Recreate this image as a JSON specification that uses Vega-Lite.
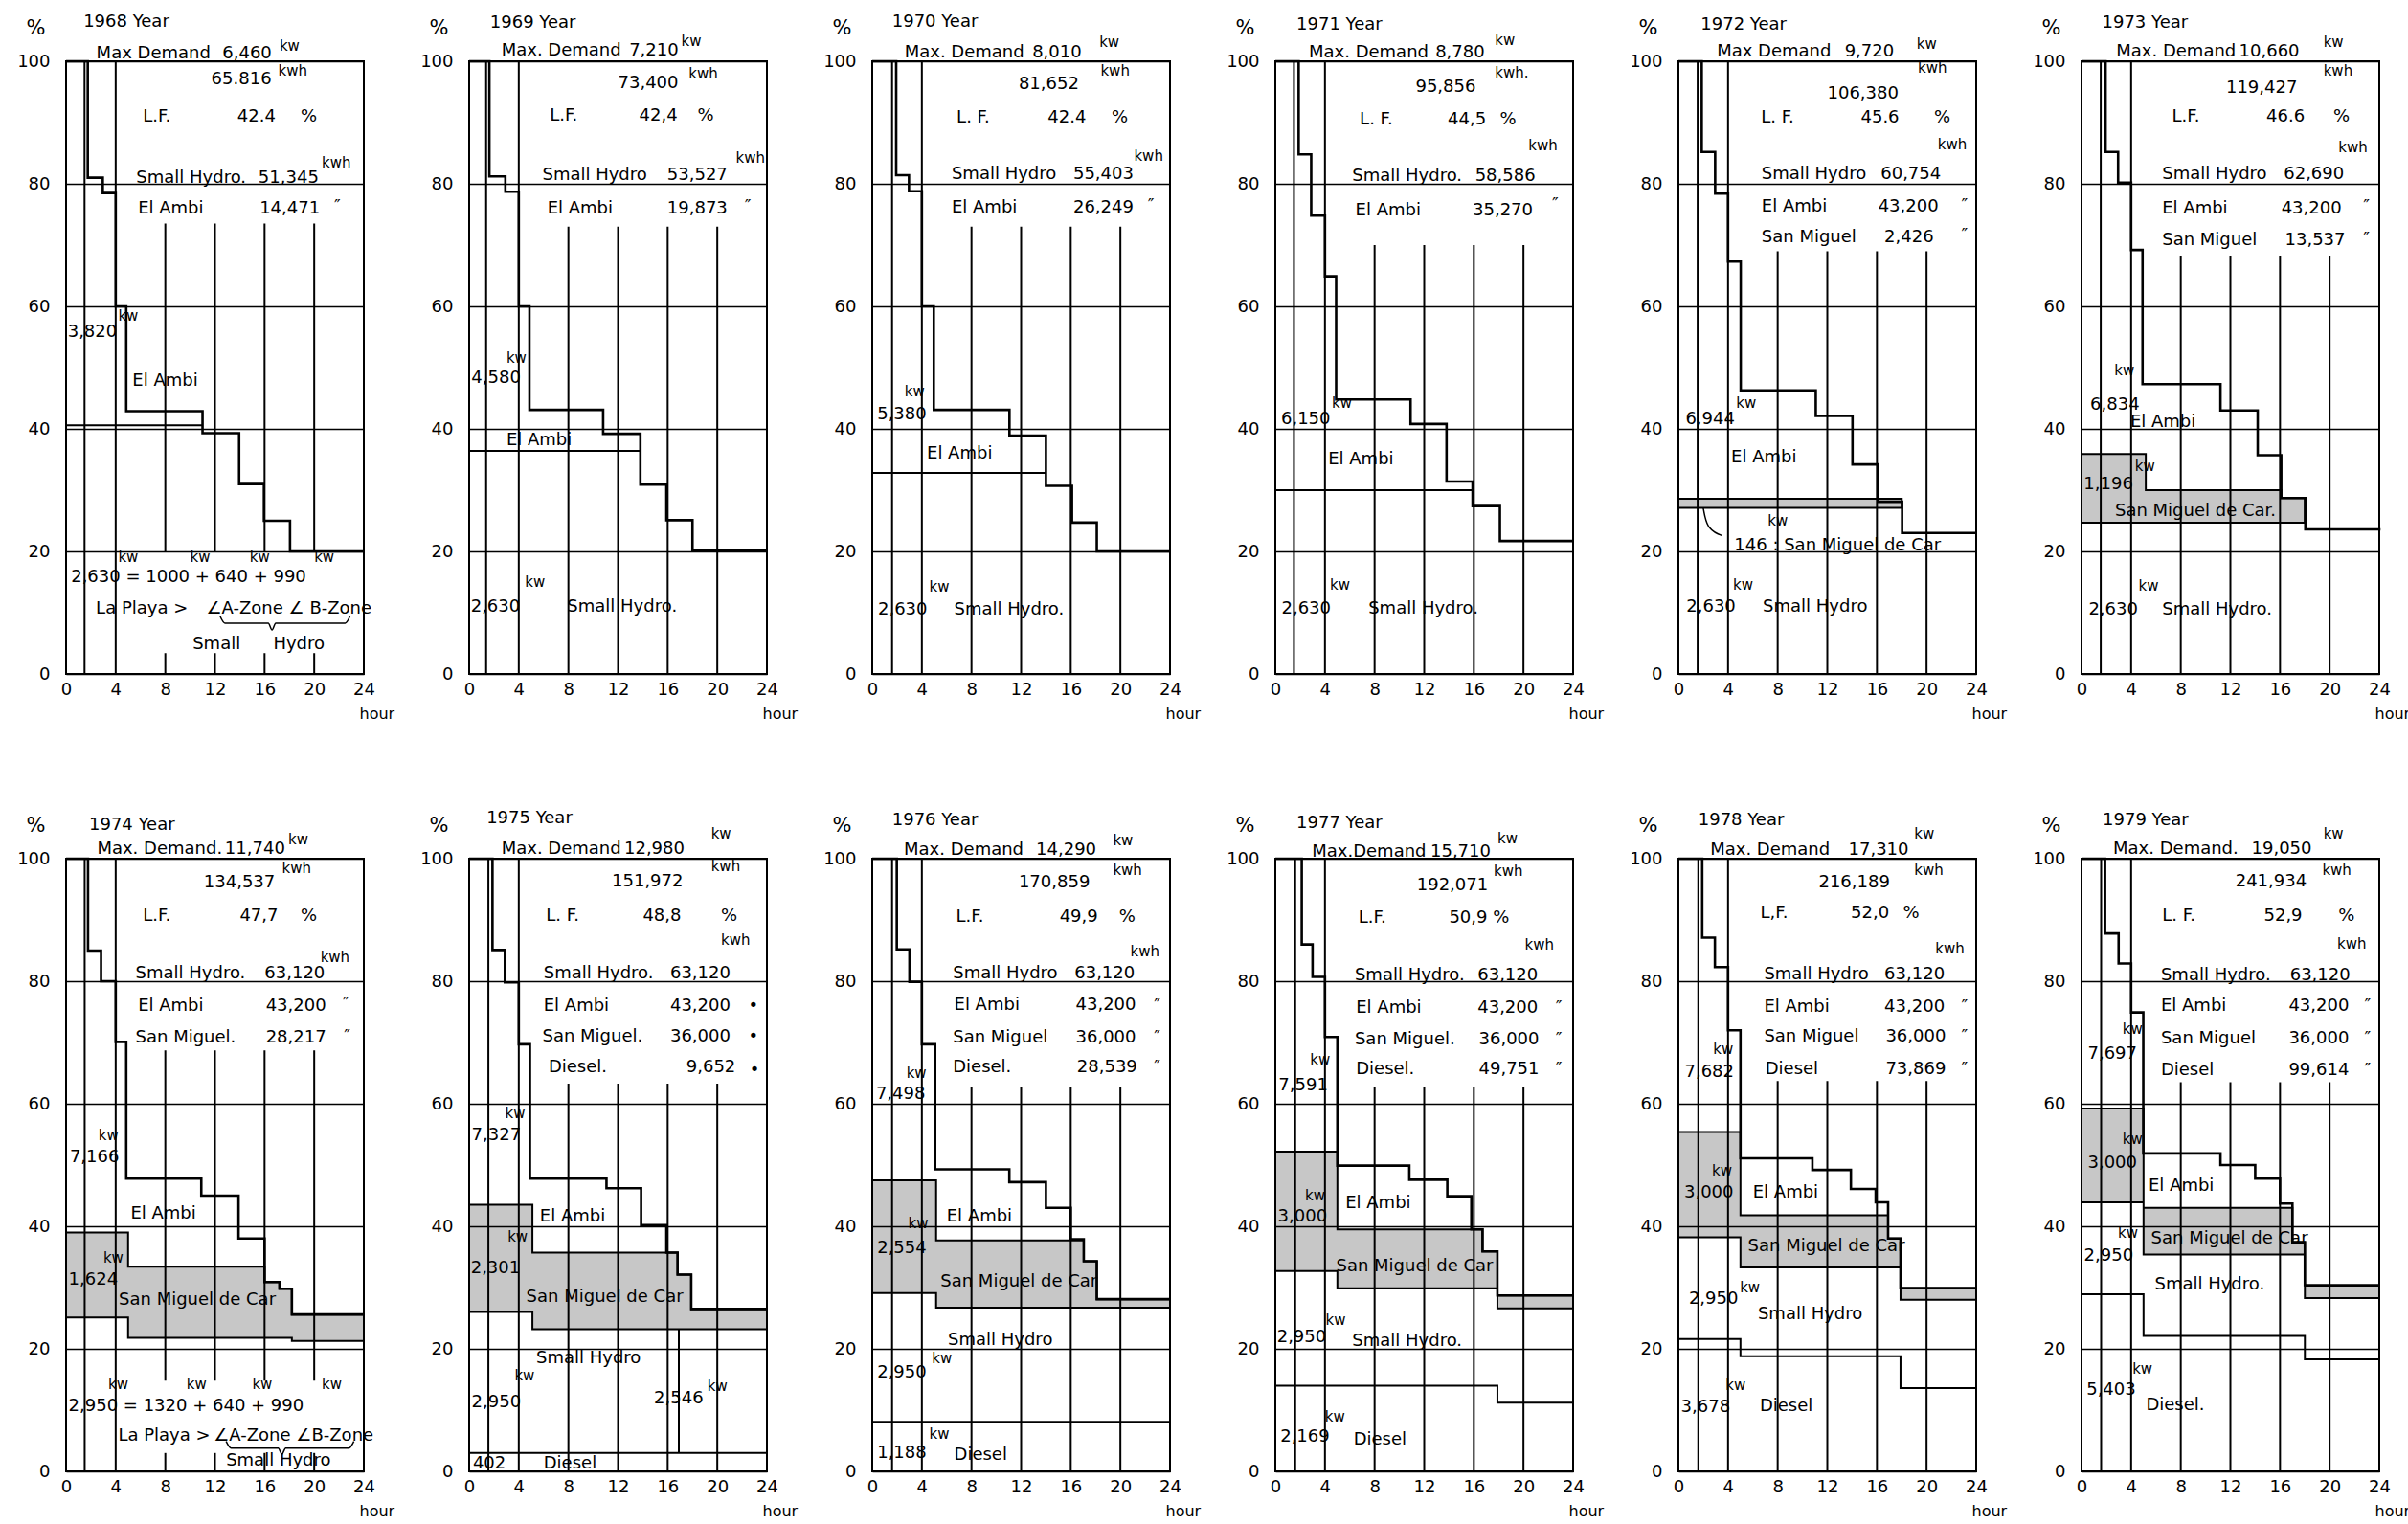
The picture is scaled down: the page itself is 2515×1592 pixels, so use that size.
{
"$schema": "https://vega.github.io/schema/vega-lite/v6.json",
"background": "white",
"padding": {"left": 16, "top": 13, "right": 5, "bottom": 5},
"bounds": "flush",
"spacing": {"row": 193, "column": 110},
"columns": 6,
"data": {"values": [
{"year":1968,"kind":"c","hour":0,"pct":100},{"year":1968,"kind":"c","hour":1.75,"pct":81},{"year":1968,"kind":"c","hour":2.96,"pct":78.5},{"year":1968,"kind":"c","hour":4,"pct":60},{"year":1968,"kind":"c","hour":4.85,"pct":42.9},{"year":1968,"kind":"c","hour":11,"pct":39.3},{"year":1968,"kind":"c","hour":13.95,"pct":31},{"year":1968,"kind":"c","hour":15.95,"pct":25},{"year":1968,"kind":"c","hour":18.05,"pct":20},{"year":1968,"kind":"c","hour":24,"pct":20},
{"year":1969,"kind":"c","hour":0,"pct":100},{"year":1969,"kind":"c","hour":1.63,"pct":81.2},{"year":1969,"kind":"c","hour":2.92,"pct":78.7},{"year":1969,"kind":"c","hour":4,"pct":60},{"year":1969,"kind":"c","hour":4.86,"pct":43.1},{"year":1969,"kind":"c","hour":10.8,"pct":39.2},{"year":1969,"kind":"c","hour":13.8,"pct":30.9},{"year":1969,"kind":"c","hour":15.9,"pct":25.1},{"year":1969,"kind":"c","hour":18,"pct":20.1},{"year":1969,"kind":"c","hour":24,"pct":20.1},
{"year":1970,"kind":"c","hour":0,"pct":100},{"year":1970,"kind":"c","hour":1.93,"pct":81.4},{"year":1970,"kind":"c","hour":2.96,"pct":78.8},{"year":1970,"kind":"c","hour":4,"pct":60},{"year":1970,"kind":"c","hour":4.96,"pct":43.1},{"year":1970,"kind":"c","hour":11.06,"pct":38.9},{"year":1970,"kind":"c","hour":14,"pct":30.7},{"year":1970,"kind":"c","hour":16.1,"pct":24.7},{"year":1970,"kind":"c","hour":18.1,"pct":20},{"year":1970,"kind":"c","hour":24,"pct":20},
{"year":1971,"kind":"c","hour":0,"pct":100},{"year":1971,"kind":"c","hour":1.88,"pct":84.8},{"year":1971,"kind":"c","hour":2.89,"pct":74.8},{"year":1971,"kind":"c","hour":4,"pct":64.9},{"year":1971,"kind":"c","hour":4.9,"pct":44.8},{"year":1971,"kind":"c","hour":10.9,"pct":40.8},{"year":1971,"kind":"c","hour":13.8,"pct":31.4},{"year":1971,"kind":"c","hour":15.9,"pct":27.4},{"year":1971,"kind":"c","hour":18.1,"pct":21.7},{"year":1971,"kind":"c","hour":24,"pct":21.7},
{"year":1972,"kind":"c","hour":0,"pct":100},{"year":1972,"kind":"c","hour":1.88,"pct":85.2},{"year":1972,"kind":"c","hour":2.96,"pct":78.4},{"year":1972,"kind":"c","hour":4,"pct":67.3},{"year":1972,"kind":"c","hour":5.02,"pct":46.3},{"year":1972,"kind":"c","hour":11.07,"pct":42.1},{"year":1972,"kind":"c","hour":14.03,"pct":34.2},{"year":1972,"kind":"c","hour":16.1,"pct":28.1},{"year":1972,"kind":"c","hour":18.03,"pct":23},{"year":1972,"kind":"c","hour":24,"pct":23},
{"year":1973,"kind":"c","hour":0,"pct":100},{"year":1973,"kind":"c","hour":1.94,"pct":85.2},{"year":1973,"kind":"c","hour":2.95,"pct":80.2},{"year":1973,"kind":"c","hour":4,"pct":69.2},{"year":1973,"kind":"c","hour":4.92,"pct":47.3},{"year":1973,"kind":"c","hour":11.2,"pct":43},{"year":1973,"kind":"c","hour":14.2,"pct":35.7},{"year":1973,"kind":"c","hour":16.1,"pct":28.7},{"year":1973,"kind":"c","hour":18.04,"pct":23.6},{"year":1973,"kind":"c","hour":24,"pct":23.4},
{"year":1974,"kind":"c","hour":0,"pct":100},{"year":1974,"kind":"c","hour":1.77,"pct":85},{"year":1974,"kind":"c","hour":2.82,"pct":80},{"year":1974,"kind":"c","hour":4,"pct":70.1},{"year":1974,"kind":"c","hour":4.85,"pct":47.8},{"year":1974,"kind":"c","hour":10.9,"pct":45},{"year":1974,"kind":"c","hour":13.9,"pct":38},{"year":1974,"kind":"c","hour":16,"pct":30.9},{"year":1974,"kind":"c","hour":17.2,"pct":29.8},{"year":1974,"kind":"c","hour":18.2,"pct":25.6},{"year":1974,"kind":"c","hour":24,"pct":25.6},
{"year":1975,"kind":"c","hour":0,"pct":100},{"year":1975,"kind":"c","hour":1.88,"pct":85.1},{"year":1975,"kind":"c","hour":2.88,"pct":79.8},{"year":1975,"kind":"c","hour":4,"pct":69.7},{"year":1975,"kind":"c","hour":4.9,"pct":47.8},{"year":1975,"kind":"c","hour":11.07,"pct":46.2},{"year":1975,"kind":"c","hour":13.86,"pct":40.2},{"year":1975,"kind":"c","hour":15.9,"pct":35.7},{"year":1975,"kind":"c","hour":16.8,"pct":32.1},{"year":1975,"kind":"c","hour":17.9,"pct":26.5},{"year":1975,"kind":"c","hour":24,"pct":26.5},
{"year":1976,"kind":"c","hour":0,"pct":100},{"year":1976,"kind":"c","hour":1.98,"pct":85.2},{"year":1976,"kind":"c","hour":3,"pct":79.9},{"year":1976,"kind":"c","hour":4,"pct":69.7},{"year":1976,"kind":"c","hour":5.07,"pct":49.3},{"year":1976,"kind":"c","hour":11.05,"pct":47.2},{"year":1976,"kind":"c","hour":14,"pct":43},{"year":1976,"kind":"c","hour":16,"pct":37.9},{"year":1976,"kind":"c","hour":17.05,"pct":34.3},{"year":1976,"kind":"c","hour":18.1,"pct":28.1},{"year":1976,"kind":"c","hour":24,"pct":28.1},
{"year":1977,"kind":"c","hour":0,"pct":100},{"year":1977,"kind":"c","hour":2.13,"pct":86},{"year":1977,"kind":"c","hour":3,"pct":80.7},{"year":1977,"kind":"c","hour":4,"pct":70.9},{"year":1977,"kind":"c","hour":5,"pct":49.9},{"year":1977,"kind":"c","hour":10.8,"pct":47.6},{"year":1977,"kind":"c","hour":13.86,"pct":44.9},{"year":1977,"kind":"c","hour":15.8,"pct":39.5},{"year":1977,"kind":"c","hour":16.7,"pct":35.9},{"year":1977,"kind":"c","hour":17.9,"pct":28.7},{"year":1977,"kind":"c","hour":24,"pct":28.7},
{"year":1978,"kind":"c","hour":0,"pct":100},{"year":1978,"kind":"c","hour":1.92,"pct":87.1},{"year":1978,"kind":"c","hour":2.94,"pct":82.3},{"year":1978,"kind":"c","hour":4,"pct":72},{"year":1978,"kind":"c","hour":5,"pct":51.1},{"year":1978,"kind":"c","hour":10.8,"pct":49.2},{"year":1978,"kind":"c","hour":13.9,"pct":46.1},{"year":1978,"kind":"c","hour":15.9,"pct":43.9},{"year":1978,"kind":"c","hour":16.9,"pct":38},{"year":1978,"kind":"c","hour":17.9,"pct":29.9},{"year":1978,"kind":"c","hour":24,"pct":29.9},
{"year":1979,"kind":"c","hour":0,"pct":100},{"year":1979,"kind":"c","hour":1.9,"pct":87.8},{"year":1979,"kind":"c","hour":2.99,"pct":82.9},{"year":1979,"kind":"c","hour":4,"pct":74.9},{"year":1979,"kind":"c","hour":4.98,"pct":51.9},{"year":1979,"kind":"c","hour":11.2,"pct":50},{"year":1979,"kind":"c","hour":14,"pct":47.8},{"year":1979,"kind":"c","hour":16,"pct":43.7},{"year":1979,"kind":"c","hour":17,"pct":37.4},{"year":1979,"kind":"c","hour":18,"pct":30.4},{"year":1979,"kind":"c","hour":24,"pct":30.4},

{"year":1972,"kind":"h","hour":0,"pct":28.6,"pct2":27.1},{"year":1972,"kind":"h","hour":18,"pct":28.6,"pct2":27.1},
{"year":1973,"kind":"h","hour":0,"pct":35.9,"pct2":24.7},{"year":1973,"kind":"h","hour":5.18,"pct":30,"pct2":24.7},{"year":1973,"kind":"h","hour":16.1,"pct":28.7,"pct2":24.7},{"year":1973,"kind":"h","hour":18,"pct":28.7,"pct2":24.7},
{"year":1974,"kind":"h","hour":0,"pct":39,"pct2":25.1},{"year":1974,"kind":"h","hour":5,"pct":33.4,"pct2":21.8},{"year":1974,"kind":"h","hour":16,"pct":30.9,"pct2":21.8},{"year":1974,"kind":"h","hour":17.2,"pct":29.8,"pct2":21.8},{"year":1974,"kind":"h","hour":18.2,"pct":25.6,"pct2":21.3},{"year":1974,"kind":"h","hour":24,"pct":25.6,"pct2":21.3},
{"year":1975,"kind":"h","hour":0,"pct":43.5,"pct2":26},{"year":1975,"kind":"h","hour":5.1,"pct":35.7,"pct2":23.2},{"year":1975,"kind":"h","hour":16.8,"pct":32.1,"pct2":23.2},{"year":1975,"kind":"h","hour":17.9,"pct":26.5,"pct2":23.2},{"year":1975,"kind":"h","hour":24,"pct":26.5,"pct2":23.2},
{"year":1976,"kind":"h","hour":0,"pct":47.5,"pct2":29.1},{"year":1976,"kind":"h","hour":5.15,"pct":37.7,"pct2":26.7},{"year":1976,"kind":"h","hour":17.05,"pct":34.3,"pct2":26.7},{"year":1976,"kind":"h","hour":18.1,"pct":28.1,"pct2":26.7},{"year":1976,"kind":"h","hour":24,"pct":28.1,"pct2":26.7},
{"year":1977,"kind":"h","hour":0,"pct":52.2,"pct2":32.7},{"year":1977,"kind":"h","hour":5,"pct":39.5,"pct2":29.9},{"year":1977,"kind":"h","hour":16.7,"pct":35.9,"pct2":29.9},{"year":1977,"kind":"h","hour":17.9,"pct":28.7,"pct2":26.6},{"year":1977,"kind":"h","hour":24,"pct":28.7,"pct2":26.6},
{"year":1978,"kind":"h","hour":0,"pct":55.4,"pct2":38.2},{"year":1978,"kind":"h","hour":5,"pct":41.8,"pct2":33.3},{"year":1978,"kind":"h","hour":16.9,"pct":38,"pct2":33.3},{"year":1978,"kind":"h","hour":17.9,"pct":29.9,"pct2":28},{"year":1978,"kind":"h","hour":24,"pct":29.9,"pct2":28},
{"year":1979,"kind":"h","hour":0,"pct":59.2,"pct2":43.9},{"year":1979,"kind":"h","hour":5,"pct":43,"pct2":35.4},{"year":1979,"kind":"h","hour":17,"pct":37.4,"pct2":35.4},{"year":1979,"kind":"h","hour":18,"pct":30.3,"pct2":28.3},{"year":1979,"kind":"h","hour":24,"pct":30.3,"pct2":28.3},

{"year":1968,"kind":"sub","grp":"a","hour":0,"pct":40.6},{"year":1968,"kind":"sub","grp":"a","hour":11,"pct":40.6},
{"year":1969,"kind":"sub","grp":"a","hour":0,"pct":36.4},{"year":1969,"kind":"sub","grp":"a","hour":13.8,"pct":36.4},
{"year":1970,"kind":"sub","grp":"a","hour":0,"pct":32.8},{"year":1970,"kind":"sub","grp":"a","hour":14,"pct":32.8},
{"year":1971,"kind":"sub","grp":"a","hour":0,"pct":30},{"year":1971,"kind":"sub","grp":"a","hour":16,"pct":30},
{"year":1975,"kind":"sub","grp":"d","hour":0,"pct":3},{"year":1975,"kind":"sub","grp":"d","hour":24,"pct":3},
{"year":1976,"kind":"sub","grp":"d","hour":0,"pct":8.1},{"year":1976,"kind":"sub","grp":"d","hour":24,"pct":8.1},
{"year":1977,"kind":"sub","grp":"d","hour":0,"pct":14},{"year":1977,"kind":"sub","grp":"d","hour":17.9,"pct":11.2},{"year":1977,"kind":"sub","grp":"d","hour":24,"pct":11.2},
{"year":1978,"kind":"sub","grp":"d","hour":0,"pct":21.6},{"year":1978,"kind":"sub","grp":"d","hour":5,"pct":18.8},{"year":1978,"kind":"sub","grp":"d","hour":17.9,"pct":13.6},{"year":1978,"kind":"sub","grp":"d","hour":24,"pct":13.6},
{"year":1979,"kind":"sub","grp":"d","hour":0,"pct":28.9},{"year":1979,"kind":"sub","grp":"d","hour":5,"pct":22.1},{"year":1979,"kind":"sub","grp":"d","hour":18,"pct":18.3},{"year":1979,"kind":"sub","grp":"d","hour":24,"pct":18.3},

{"year":1968,"kind":"lead","grp":"b","hour":12.4,"pct":9.5},{"year":1968,"kind":"lead","grp":"b","hour":12.8,"pct":8.3},{"year":1968,"kind":"lead","grp":"b","hour":16.3,"pct":8.3},{"year":1968,"kind":"lead","grp":"b","hour":16.6,"pct":7.2},{"year":1968,"kind":"lead","grp":"b","hour":16.9,"pct":8.3},{"year":1968,"kind":"lead","grp":"b","hour":22.5,"pct":8.3},{"year":1968,"kind":"lead","grp":"b","hour":22.9,"pct":9.5},
{"year":1974,"kind":"lead","grp":"b","hour":12.9,"pct":4.9},{"year":1974,"kind":"lead","grp":"b","hour":13.3,"pct":3.8},{"year":1974,"kind":"lead","grp":"b","hour":17.1,"pct":3.8},{"year":1974,"kind":"lead","grp":"b","hour":17.4,"pct":2.8},{"year":1974,"kind":"lead","grp":"b","hour":17.7,"pct":3.8},{"year":1974,"kind":"lead","grp":"b","hour":22.8,"pct":3.8},{"year":1974,"kind":"lead","grp":"b","hour":23.2,"pct":4.9},
{"year":1972,"kind":"lead","grp":"l","hour":2.0,"pct":27.1},{"year":1972,"kind":"lead","grp":"l","hour":2.15,"pct":25.6},{"year":1972,"kind":"lead","grp":"l","hour":2.5,"pct":23.9},{"year":1972,"kind":"lead","grp":"l","hour":3.5,"pct":22.6},

{"year":1968,"kind":"vr","hour":1.49,"pct":0,"pct2":100},{"year":1968,"kind":"vr","hour":4,"pct":0,"pct2":100},{"year":1968,"kind":"vr","hour":8,"pct":19.9,"pct2":73.5},{"year":1968,"kind":"vr","hour":12,"pct":19.9,"pct2":73.5},{"year":1968,"kind":"vr","hour":16,"pct":19.9,"pct2":73.5},{"year":1968,"kind":"vr","hour":20,"pct":19.9,"pct2":73.5},{"year":1968,"kind":"vr","hour":8,"pct":0,"pct2":3.4},{"year":1968,"kind":"vr","hour":12,"pct":0,"pct2":3.4},{"year":1968,"kind":"vr","hour":16,"pct":0,"pct2":3.4},{"year":1968,"kind":"vr","hour":20,"pct":0,"pct2":3.4},
{"year":1969,"kind":"vr","hour":1.37,"pct":0,"pct2":100},{"year":1969,"kind":"vr","hour":4,"pct":0,"pct2":100},{"year":1969,"kind":"vr","hour":8,"pct":0,"pct2":73},{"year":1969,"kind":"vr","hour":12,"pct":0,"pct2":73},{"year":1969,"kind":"vr","hour":16,"pct":0,"pct2":73},{"year":1969,"kind":"vr","hour":20,"pct":0,"pct2":73},
{"year":1970,"kind":"vr","hour":1.6,"pct":0,"pct2":100},{"year":1970,"kind":"vr","hour":4,"pct":0,"pct2":100},{"year":1970,"kind":"vr","hour":8,"pct":0,"pct2":73},{"year":1970,"kind":"vr","hour":12,"pct":0,"pct2":73},{"year":1970,"kind":"vr","hour":16,"pct":0,"pct2":73},{"year":1970,"kind":"vr","hour":20,"pct":0,"pct2":73},
{"year":1971,"kind":"vr","hour":1.5,"pct":0,"pct2":100},{"year":1971,"kind":"vr","hour":4,"pct":0,"pct2":100},{"year":1971,"kind":"vr","hour":8,"pct":0,"pct2":70},{"year":1971,"kind":"vr","hour":12,"pct":0,"pct2":70},{"year":1971,"kind":"vr","hour":16,"pct":0,"pct2":70},{"year":1971,"kind":"vr","hour":20,"pct":0,"pct2":70},
{"year":1972,"kind":"vr","hour":1.55,"pct":0,"pct2":100},{"year":1972,"kind":"vr","hour":4,"pct":0,"pct2":100},{"year":1972,"kind":"vr","hour":8,"pct":0,"pct2":69},{"year":1972,"kind":"vr","hour":12,"pct":0,"pct2":69},{"year":1972,"kind":"vr","hour":16,"pct":0,"pct2":69},{"year":1972,"kind":"vr","hour":20,"pct":0,"pct2":69},
{"year":1973,"kind":"vr","hour":1.55,"pct":0,"pct2":100},{"year":1973,"kind":"vr","hour":4,"pct":0,"pct2":100},{"year":1973,"kind":"vr","hour":8,"pct":0,"pct2":68.3},{"year":1973,"kind":"vr","hour":12,"pct":0,"pct2":68.3},{"year":1973,"kind":"vr","hour":16,"pct":0,"pct2":68.3},{"year":1973,"kind":"vr","hour":20,"pct":0,"pct2":68.3},
{"year":1974,"kind":"vr","hour":1.5,"pct":0,"pct2":100},{"year":1974,"kind":"vr","hour":4,"pct":0,"pct2":100},{"year":1974,"kind":"vr","hour":8,"pct":14.8,"pct2":68.7},{"year":1974,"kind":"vr","hour":12,"pct":14.8,"pct2":68.7},{"year":1974,"kind":"vr","hour":16,"pct":14.8,"pct2":68.7},{"year":1974,"kind":"vr","hour":20,"pct":14.8,"pct2":68.7},{"year":1974,"kind":"vr","hour":8,"pct":0,"pct2":3},{"year":1974,"kind":"vr","hour":12,"pct":0,"pct2":3},{"year":1974,"kind":"vr","hour":16,"pct":0,"pct2":3},{"year":1974,"kind":"vr","hour":20,"pct":0,"pct2":3},
{"year":1975,"kind":"vr","hour":1.55,"pct":0,"pct2":100},{"year":1975,"kind":"vr","hour":4,"pct":0,"pct2":100},{"year":1975,"kind":"vr","hour":8,"pct":0,"pct2":63.3},{"year":1975,"kind":"vr","hour":12,"pct":0,"pct2":63.3},{"year":1975,"kind":"vr","hour":16,"pct":0,"pct2":63.3},{"year":1975,"kind":"vr","hour":20,"pct":0,"pct2":63.3},{"year":1975,"kind":"vr","hour":16.9,"pct":3,"pct2":23.2},
{"year":1976,"kind":"vr","hour":1.6,"pct":0,"pct2":100},{"year":1976,"kind":"vr","hour":4,"pct":0,"pct2":100},{"year":1976,"kind":"vr","hour":8,"pct":0,"pct2":62.7},{"year":1976,"kind":"vr","hour":12,"pct":0,"pct2":62.7},{"year":1976,"kind":"vr","hour":16,"pct":0,"pct2":62.7},{"year":1976,"kind":"vr","hour":20,"pct":0,"pct2":62.7},
{"year":1977,"kind":"vr","hour":1.6,"pct":0,"pct2":100},{"year":1977,"kind":"vr","hour":4,"pct":0,"pct2":100},{"year":1977,"kind":"vr","hour":8,"pct":0,"pct2":62.7},{"year":1977,"kind":"vr","hour":12,"pct":0,"pct2":62.7},{"year":1977,"kind":"vr","hour":16,"pct":0,"pct2":62.7},{"year":1977,"kind":"vr","hour":20,"pct":0,"pct2":62.7},
{"year":1978,"kind":"vr","hour":1.6,"pct":0,"pct2":100},{"year":1978,"kind":"vr","hour":4,"pct":0,"pct2":100},{"year":1978,"kind":"vr","hour":8,"pct":0,"pct2":63.7},{"year":1978,"kind":"vr","hour":12,"pct":0,"pct2":63.7},{"year":1978,"kind":"vr","hour":16,"pct":0,"pct2":63.7},{"year":1978,"kind":"vr","hour":20,"pct":0,"pct2":63.7},
{"year":1979,"kind":"vr","hour":1.58,"pct":0,"pct2":100},{"year":1979,"kind":"vr","hour":4,"pct":0,"pct2":100},{"year":1979,"kind":"vr","hour":8,"pct":0,"pct2":63.5},{"year":1979,"kind":"vr","hour":12,"pct":0,"pct2":63.5},{"year":1979,"kind":"vr","hour":16,"pct":0,"pct2":63.5},{"year":1979,"kind":"vr","hour":20,"pct":0,"pct2":63.5},

{"year":1968,"kind":"t","hour":1.4,"pct":106.4,"label":"1968  Year"},
{"year":1968,"kind":"t","hour":2.44,"pct":101.3,"label":"Max Demand"},
{"year":1968,"kind":"t","hour":12.6,"pct":101.3,"label":"6,460"},
{"year":1968,"kind":"s","hour":17.2,"pct":102,"label":"kw"},
{"year":1968,"kind":"t","hour":11.7,"pct":97.1,"label":"65.816"},
{"year":1968,"kind":"s","hour":17.1,"pct":97.9,"label":"kwh"},
{"year":1968,"kind":"t","hour":6.2,"pct":91,"label":"L.F."},
{"year":1968,"kind":"t","hour":13.8,"pct":91,"label":"42.4"},
{"year":1968,"kind":"t","hour":18.9,"pct":91,"label":"%"},
{"year":1968,"kind":"t","hour":5.66,"pct":81,"label":"Small Hydro."},
{"year":1968,"kind":"t","hour":15.5,"pct":81,"label":"51,345"},
{"year":1968,"kind":"s","hour":20.6,"pct":83,"label":"kwh"},
{"year":1968,"kind":"t","hour":5.8,"pct":75.9,"label":"El Ambi"},
{"year":1968,"kind":"t","hour":15.6,"pct":75.9,"label":"14,471"},
{"year":1968,"kind":"t","hour":21.6,"pct":76.2,"label":"″"},
{"year":1968,"kind":"t","hour":0.13,"pct":55.8,"label":"3,820"},
{"year":1968,"kind":"s","hour":4.2,"pct":58,"label":"kw"},
{"year":1968,"kind":"t","hour":5.35,"pct":47.8,"label":"El Ambi"},
{"year":1968,"kind":"s","hour":4.2,"pct":18.6,"label":"kw"},
{"year":1968,"kind":"s","hour":10,"pct":18.6,"label":"kw"},
{"year":1968,"kind":"s","hour":14.8,"pct":18.6,"label":"kw"},
{"year":1968,"kind":"s","hour":20,"pct":18.6,"label":"kw"},
{"year":1968,"kind":"t","hour":0.4,"pct":15.8,"label":"2,630 = 1000 + 640 + 990"},
{"year":1968,"kind":"t","hour":2.4,"pct":10.6,"label":"La Playa  >"},
{"year":1968,"kind":"t","hour":11.3,"pct":10.6,"label":"∠A-Zone ∠ B-Zone"},
{"year":1968,"kind":"t","hour":10.2,"pct":4.9,"label":"Small"},
{"year":1968,"kind":"t","hour":16.7,"pct":4.9,"label":"Hydro"},

{"year":1969,"kind":"t","hour":1.68,"pct":106.3,"label":"1969  Year"},
{"year":1969,"kind":"t","hour":2.6,"pct":101.7,"label":"Max. Demand"},
{"year":1969,"kind":"t","hour":12.9,"pct":101.7,"label":"7,210"},
{"year":1969,"kind":"s","hour":17.1,"pct":102.8,"label":"kw"},
{"year":1969,"kind":"t","hour":12,"pct":96.4,"label":"73,400"},
{"year":1969,"kind":"s","hour":17.7,"pct":97.5,"label":"kwh"},
{"year":1969,"kind":"t","hour":6.5,"pct":91.1,"label":"L.F."},
{"year":1969,"kind":"t","hour":13.7,"pct":91.1,"label":"42,4"},
{"year":1969,"kind":"t","hour":18.4,"pct":91.1,"label":"%"},
{"year":1969,"kind":"t","hour":5.9,"pct":81.4,"label":"Small Hydro"},
{"year":1969,"kind":"t","hour":15.96,"pct":81.4,"label":"53,527"},
{"year":1969,"kind":"s","hour":21.5,"pct":83.8,"label":"kwh"},
{"year":1969,"kind":"t","hour":6.3,"pct":75.9,"label":"El Ambi"},
{"year":1969,"kind":"t","hour":15.96,"pct":75.9,"label":"19,873"},
{"year":1969,"kind":"t","hour":22.2,"pct":76.2,"label":"″"},
{"year":1969,"kind":"s","hour":3,"pct":51.1,"label":"kw"},
{"year":1969,"kind":"t","hour":0.18,"pct":48.3,"label":"4,580"},
{"year":1969,"kind":"t","hour":3,"pct":38.2,"label":"El Ambi"},
{"year":1969,"kind":"s","hour":4.5,"pct":14.5,"label":"kw"},
{"year":1969,"kind":"t","hour":0.13,"pct":11,"label":"2,630"},
{"year":1969,"kind":"t","hour":7.9,"pct":11,"label":"Small Hydro."},

{"year":1970,"kind":"t","hour":1.6,"pct":106.4,"label":"1970  Year"},
{"year":1970,"kind":"t","hour":2.6,"pct":101.4,"label":"Max. Demand"},
{"year":1970,"kind":"t","hour":12.9,"pct":101.4,"label":"8,010"},
{"year":1970,"kind":"s","hour":18.3,"pct":102.7,"label":"kw"},
{"year":1970,"kind":"s","hour":18.4,"pct":98,"label":"kwh"},
{"year":1970,"kind":"t","hour":11.8,"pct":96.2,"label":"81,652"},
{"year":1970,"kind":"t","hour":6.8,"pct":90.8,"label":"L. F."},
{"year":1970,"kind":"t","hour":14.15,"pct":90.8,"label":"42.4"},
{"year":1970,"kind":"t","hour":19.3,"pct":90.8,"label":"%"},
{"year":1970,"kind":"s","hour":21.1,"pct":84,"label":"kwh"},
{"year":1970,"kind":"t","hour":6.4,"pct":81.6,"label":"Small Hydro"},
{"year":1970,"kind":"t","hour":16.2,"pct":81.6,"label":"55,403"},
{"year":1970,"kind":"t","hour":6.4,"pct":76.1,"label":"El Ambi"},
{"year":1970,"kind":"t","hour":16.2,"pct":76.1,"label":"26,249"},
{"year":1970,"kind":"t","hour":22.2,"pct":76.4,"label":"″"},
{"year":1970,"kind":"s","hour":2.6,"pct":45.6,"label":"kw"},
{"year":1970,"kind":"t","hour":0.4,"pct":42.3,"label":"5,380"},
{"year":1970,"kind":"t","hour":4.4,"pct":36,"label":"El Ambi"},
{"year":1970,"kind":"s","hour":4.6,"pct":13.7,"label":"kw"},
{"year":1970,"kind":"t","hour":0.46,"pct":10.5,"label":"2,630"},
{"year":1970,"kind":"t","hour":6.6,"pct":10.5,"label":"Small Hydro."},

{"year":1971,"kind":"t","hour":1.7,"pct":106,"label":"1971  Year"},
{"year":1971,"kind":"t","hour":2.7,"pct":101.4,"label":"Max. Demand"},
{"year":1971,"kind":"t","hour":12.9,"pct":101.4,"label":"8,780"},
{"year":1971,"kind":"s","hour":17.7,"pct":102.9,"label":"kw"},
{"year":1971,"kind":"t","hour":11.3,"pct":95.8,"label":"95,856"},
{"year":1971,"kind":"s","hour":17.7,"pct":97.7,"label":"kwh."},
{"year":1971,"kind":"t","hour":6.8,"pct":90.5,"label":"L. F."},
{"year":1971,"kind":"t","hour":13.9,"pct":90.5,"label":"44,5"},
{"year":1971,"kind":"t","hour":18.1,"pct":90.5,"label":"%"},
{"year":1971,"kind":"s","hour":20.4,"pct":85.8,"label":"kwh"},
{"year":1971,"kind":"t","hour":6.2,"pct":81.2,"label":"Small Hydro."},
{"year":1971,"kind":"t","hour":16.1,"pct":81.2,"label":"58,586"},
{"year":1971,"kind":"t","hour":6.45,"pct":75.6,"label":"El Ambi"},
{"year":1971,"kind":"t","hour":15.9,"pct":75.6,"label":"35,270"},
{"year":1971,"kind":"t","hour":22.3,"pct":76.5,"label":"″"},
{"year":1971,"kind":"t","hour":0.46,"pct":41.5,"label":"6,150"},
{"year":1971,"kind":"s","hour":4.55,"pct":43.8,"label":"kw"},
{"year":1971,"kind":"t","hour":4.26,"pct":35,"label":"El Ambi"},
{"year":1971,"kind":"s","hour":4.4,"pct":14,"label":"kw"},
{"year":1971,"kind":"t","hour":0.5,"pct":10.6,"label":"2,630"},
{"year":1971,"kind":"t","hour":7.5,"pct":10.6,"label":"Small Hydro."},

{"year":1972,"kind":"t","hour":1.8,"pct":105.9,"label":"1972  Year"},
{"year":1972,"kind":"t","hour":3.1,"pct":101.5,"label":"Max Demand"},
{"year":1972,"kind":"t","hour":13.4,"pct":101.5,"label":"9,720"},
{"year":1972,"kind":"s","hour":19.2,"pct":102.4,"label":"kw"},
{"year":1972,"kind":"s","hour":19.3,"pct":98.5,"label":"kwh"},
{"year":1972,"kind":"t","hour":12,"pct":94.7,"label":"106,380"},
{"year":1972,"kind":"t","hour":6.65,"pct":90.8,"label":"L. F."},
{"year":1972,"kind":"t","hour":14.7,"pct":90.8,"label":"45.6"},
{"year":1972,"kind":"t","hour":20.6,"pct":90.8,"label":"%"},
{"year":1972,"kind":"s","hour":20.9,"pct":86,"label":"kwh"},
{"year":1972,"kind":"t","hour":6.7,"pct":81.5,"label":"Small Hydro"},
{"year":1972,"kind":"t","hour":16.3,"pct":81.5,"label":"60,754"},
{"year":1972,"kind":"t","hour":6.7,"pct":76.2,"label":"El Ambi"},
{"year":1972,"kind":"t","hour":16.1,"pct":76.2,"label":"43,200"},
{"year":1972,"kind":"t","hour":22.8,"pct":76.4,"label":"″"},
{"year":1972,"kind":"t","hour":6.7,"pct":71.3,"label":"San Miguel"},
{"year":1972,"kind":"t","hour":16.6,"pct":71.3,"label":"2,426"},
{"year":1972,"kind":"t","hour":22.8,"pct":71.5,"label":"″"},
{"year":1972,"kind":"t","hour":0.57,"pct":41.6,"label":"6,944"},
{"year":1972,"kind":"s","hour":4.65,"pct":43.8,"label":"kw"},
{"year":1972,"kind":"t","hour":4.25,"pct":35.3,"label":"El Ambi"},
{"year":1972,"kind":"s","hour":7.2,"pct":24.5,"label":"kw"},
{"year":1972,"kind":"t","hour":4.5,"pct":21,"label":"146 : San Miguel de Car"},
{"year":1972,"kind":"s","hour":4.4,"pct":14.1,"label":"kw"},
{"year":1972,"kind":"t","hour":0.64,"pct":10.9,"label":"2,630"},
{"year":1972,"kind":"t","hour":6.8,"pct":10.9,"label":"Small Hydro"},

{"year":1973,"kind":"t","hour":1.66,"pct":106.3,"label":"1973  Year"},
{"year":1973,"kind":"t","hour":2.8,"pct":101.5,"label":"Max. Demand"},
{"year":1973,"kind":"t","hour":12.7,"pct":101.5,"label":"10,660"},
{"year":1973,"kind":"s","hour":19.5,"pct":102.7,"label":"kw"},
{"year":1973,"kind":"s","hour":19.5,"pct":97.9,"label":"kwh"},
{"year":1973,"kind":"t","hour":11.65,"pct":95.7,"label":"119,427"},
{"year":1973,"kind":"t","hour":7.3,"pct":90.9,"label":"L.F."},
{"year":1973,"kind":"t","hour":14.9,"pct":90.9,"label":"46.6"},
{"year":1973,"kind":"t","hour":20.3,"pct":90.9,"label":"%"},
{"year":1973,"kind":"s","hour":20.7,"pct":85.5,"label":"kwh"},
{"year":1973,"kind":"t","hour":6.5,"pct":81.6,"label":"Small Hydro"},
{"year":1973,"kind":"t","hour":16.3,"pct":81.6,"label":"62,690"},
{"year":1973,"kind":"t","hour":6.5,"pct":76,"label":"El Ambi"},
{"year":1973,"kind":"t","hour":16.1,"pct":76,"label":"43,200"},
{"year":1973,"kind":"t","hour":22.7,"pct":76.3,"label":"″"},
{"year":1973,"kind":"t","hour":6.5,"pct":70.8,"label":"San Miguel"},
{"year":1973,"kind":"t","hour":16.4,"pct":70.8,"label":"13,537"},
{"year":1973,"kind":"t","hour":22.7,"pct":71,"label":"″"},
{"year":1973,"kind":"s","hour":2.64,"pct":49,"label":"kw"},
{"year":1973,"kind":"t","hour":0.7,"pct":43.9,"label":"6,834"},
{"year":1973,"kind":"t","hour":3.93,"pct":41.1,"label":"El Ambi"},
{"year":1973,"kind":"t","hour":0.18,"pct":31,"label":"1,196"},
{"year":1973,"kind":"s","hour":4.3,"pct":33.4,"label":"kw"},
{"year":1973,"kind":"t","hour":2.7,"pct":26.6,"label":"San Miguel de Car."},
{"year":1973,"kind":"s","hour":4.6,"pct":13.9,"label":"kw"},
{"year":1973,"kind":"t","hour":0.57,"pct":10.4,"label":"2,630"},
{"year":1973,"kind":"t","hour":6.5,"pct":10.4,"label":"Small Hydro."},

{"year":1974,"kind":"t","hour":1.85,"pct":105.5,"label":"1974  Year"},
{"year":1974,"kind":"t","hour":2.5,"pct":101.5,"label":"Max. Demand."},
{"year":1974,"kind":"t","hour":12.8,"pct":101.5,"label":"11,740"},
{"year":1974,"kind":"s","hour":17.9,"pct":102.7,"label":"kw"},
{"year":1974,"kind":"t","hour":11.1,"pct":96.1,"label":"134,537"},
{"year":1974,"kind":"s","hour":17.4,"pct":97.9,"label":"kwh"},
{"year":1974,"kind":"t","hour":6.2,"pct":90.7,"label":"L.F."},
{"year":1974,"kind":"t","hour":14,"pct":90.7,"label":"47,7"},
{"year":1974,"kind":"t","hour":18.9,"pct":90.7,"label":"%"},
{"year":1974,"kind":"t","hour":5.6,"pct":81.2,"label":"Small Hydro."},
{"year":1974,"kind":"t","hour":16,"pct":81.2,"label":"63,120"},
{"year":1974,"kind":"s","hour":20.5,"pct":83.5,"label":"kwh"},
{"year":1974,"kind":"t","hour":5.8,"pct":75.9,"label":"El Ambi"},
{"year":1974,"kind":"t","hour":16.1,"pct":75.9,"label":"43,200"},
{"year":1974,"kind":"t","hour":22.3,"pct":76.2,"label":"″"},
{"year":1974,"kind":"t","hour":5.6,"pct":70.8,"label":"San Miguel."},
{"year":1974,"kind":"t","hour":16.1,"pct":70.8,"label":"28,217"},
{"year":1974,"kind":"t","hour":22.4,"pct":71,"label":"″"},
{"year":1974,"kind":"s","hour":2.6,"pct":54.3,"label":"kw"},
{"year":1974,"kind":"t","hour":0.3,"pct":51.2,"label":"7,166"},
{"year":1974,"kind":"t","hour":5.2,"pct":42.1,"label":"El Ambi"},
{"year":1974,"kind":"s","hour":3,"pct":34.3,"label":"kw"},
{"year":1974,"kind":"t","hour":0.2,"pct":31.2,"label":"1,624"},
{"year":1974,"kind":"t","hour":4.25,"pct":27.9,"label":"San Miguel de Car"},
{"year":1974,"kind":"s","hour":3.4,"pct":13.7,"label":"kw"},
{"year":1974,"kind":"s","hour":9.7,"pct":13.7,"label":"kw"},
{"year":1974,"kind":"s","hour":15,"pct":13.7,"label":"kw"},
{"year":1974,"kind":"s","hour":20.6,"pct":13.7,"label":"kw"},
{"year":1974,"kind":"t","hour":0.2,"pct":10.7,"label":"2,950 = 1320 + 640 + 990"},
{"year":1974,"kind":"t","hour":4.2,"pct":5.8,"label":"La Playa >"},
{"year":1974,"kind":"t","hour":11.9,"pct":5.8,"label":"∠A-Zone ∠B-Zone"},
{"year":1974,"kind":"t","hour":12.9,"pct":1.7,"label":"Small Hydro"},

{"year":1975,"kind":"t","hour":1.4,"pct":106.6,"label":"1975  Year"},
{"year":1975,"kind":"t","hour":2.6,"pct":101.5,"label":"Max. Demand"},
{"year":1975,"kind":"t","hour":12.5,"pct":101.5,"label":"12,980"},
{"year":1975,"kind":"s","hour":19.5,"pct":103.6,"label":"kw"},
{"year":1975,"kind":"s","hour":19.5,"pct":98.3,"label":"kwh"},
{"year":1975,"kind":"t","hour":11.5,"pct":96.3,"label":"151,972"},
{"year":1975,"kind":"t","hour":6.2,"pct":90.6,"label":"L. F."},
{"year":1975,"kind":"t","hour":14,"pct":90.6,"label":"48,8"},
{"year":1975,"kind":"t","hour":20.3,"pct":90.6,"label":"%"},
{"year":1975,"kind":"s","hour":20.3,"pct":86.3,"label":"kwh"},
{"year":1975,"kind":"t","hour":6,"pct":81.3,"label":"Small Hydro."},
{"year":1975,"kind":"t","hour":16.2,"pct":81.3,"label":"63,120"},
{"year":1975,"kind":"t","hour":6,"pct":76,"label":"El Ambi"},
{"year":1975,"kind":"t","hour":16.2,"pct":76,"label":"43,200"},
{"year":1975,"kind":"t","hour":22.5,"pct":76,"label":"•"},
{"year":1975,"kind":"t","hour":5.9,"pct":70.9,"label":"San Miguel."},
{"year":1975,"kind":"t","hour":16.2,"pct":70.9,"label":"36,000"},
{"year":1975,"kind":"t","hour":22.5,"pct":70.9,"label":"•"},
{"year":1975,"kind":"t","hour":6.4,"pct":65.9,"label":"Diesel."},
{"year":1975,"kind":"t","hour":17.5,"pct":65.9,"label":"9,652"},
{"year":1975,"kind":"t","hour":22.6,"pct":65.5,"label":"•"},
{"year":1975,"kind":"s","hour":2.9,"pct":57.9,"label":"kw"},
{"year":1975,"kind":"t","hour":0.2,"pct":54.9,"label":"7,327"},
{"year":1975,"kind":"t","hour":5.7,"pct":41.6,"label":"El Ambi"},
{"year":1975,"kind":"s","hour":3.1,"pct":37.8,"label":"kw"},
{"year":1975,"kind":"t","hour":0.13,"pct":33.1,"label":"2,301"},
{"year":1975,"kind":"t","hour":4.6,"pct":28.5,"label":"San Miguel de Car"},
{"year":1975,"kind":"t","hour":5.4,"pct":18.4,"label":"Small Hydro"},
{"year":1975,"kind":"s","hour":3.66,"pct":15.1,"label":"kw"},
{"year":1975,"kind":"t","hour":0.2,"pct":11.2,"label":"2,950"},
{"year":1975,"kind":"t","hour":14.9,"pct":11.9,"label":"2,546"},
{"year":1975,"kind":"s","hour":19.2,"pct":13.5,"label":"kw"},
{"year":1975,"kind":"t","hour":0.3,"pct":1.2,"label":"402"},
{"year":1975,"kind":"t","hour":6,"pct":1.2,"label":"Diesel"},

{"year":1976,"kind":"t","hour":1.6,"pct":106.3,"label":"1976  Year"},
{"year":1976,"kind":"t","hour":2.55,"pct":101.4,"label":"Max. Demand"},
{"year":1976,"kind":"t","hour":13.2,"pct":101.4,"label":"14,290"},
{"year":1976,"kind":"s","hour":19.4,"pct":102.5,"label":"kw"},
{"year":1976,"kind":"s","hour":19.4,"pct":97.6,"label":"kwh"},
{"year":1976,"kind":"t","hour":11.8,"pct":96.1,"label":"170,859"},
{"year":1976,"kind":"t","hour":6.75,"pct":90.4,"label":"L.F."},
{"year":1976,"kind":"t","hour":15.1,"pct":90.4,"label":"49,9"},
{"year":1976,"kind":"t","hour":19.9,"pct":90.4,"label":"%"},
{"year":1976,"kind":"s","hour":20.8,"pct":84.3,"label":"kwh"},
{"year":1976,"kind":"t","hour":6.5,"pct":81.3,"label":"Small Hydro"},
{"year":1976,"kind":"t","hour":16.3,"pct":81.3,"label":"63,120"},
{"year":1976,"kind":"t","hour":6.6,"pct":76.1,"label":"El Ambi"},
{"year":1976,"kind":"t","hour":16.4,"pct":76.1,"label":"43,200"},
{"year":1976,"kind":"t","hour":22.7,"pct":76,"label":"″"},
{"year":1976,"kind":"t","hour":6.5,"pct":70.8,"label":"San Miguel"},
{"year":1976,"kind":"t","hour":16.4,"pct":70.8,"label":"36,000"},
{"year":1976,"kind":"t","hour":22.7,"pct":70.8,"label":"″"},
{"year":1976,"kind":"t","hour":6.5,"pct":65.9,"label":"Diesel."},
{"year":1976,"kind":"t","hour":16.5,"pct":65.9,"label":"28,539"},
{"year":1976,"kind":"t","hour":22.7,"pct":65.9,"label":"″"},
{"year":1976,"kind":"s","hour":2.75,"pct":64.6,"label":"kw"},
{"year":1976,"kind":"t","hour":0.3,"pct":61.6,"label":"7,498"},
{"year":1976,"kind":"t","hour":6,"pct":41.5,"label":"El Ambi"},
{"year":1976,"kind":"s","hour":2.9,"pct":40,"label":"kw"},
{"year":1976,"kind":"t","hour":0.4,"pct":36.4,"label":"2,554"},
{"year":1976,"kind":"t","hour":5.5,"pct":30.9,"label":"San Miguel de Car"},
{"year":1976,"kind":"t","hour":6.1,"pct":21.4,"label":"Small Hydro"},
{"year":1976,"kind":"s","hour":4.8,"pct":18,"label":"kw"},
{"year":1976,"kind":"t","hour":0.4,"pct":16.1,"label":"2,950"},
{"year":1976,"kind":"s","hour":4.6,"pct":5.6,"label":"kw"},
{"year":1976,"kind":"t","hour":0.4,"pct":3,"label":"1,188"},
{"year":1976,"kind":"t","hour":6.6,"pct":2.6,"label":"Diesel"},

{"year":1977,"kind":"t","hour":1.7,"pct":105.8,"label":"1977  Year"},
{"year":1977,"kind":"t","hour":2.95,"pct":101.1,"label":"Max.Demand"},
{"year":1977,"kind":"t","hour":12.5,"pct":101.1,"label":"15,710"},
{"year":1977,"kind":"s","hour":17.9,"pct":102.8,"label":"kw"},
{"year":1977,"kind":"t","hour":11.4,"pct":95.6,"label":"192,071"},
{"year":1977,"kind":"s","hour":17.6,"pct":97.5,"label":"kwh"},
{"year":1977,"kind":"t","hour":6.7,"pct":90.3,"label":"L.F."},
{"year":1977,"kind":"t","hour":14,"pct":90.3,"label":"50,9 %"},
{"year":1977,"kind":"s","hour":20.1,"pct":85.4,"label":"kwh"},
{"year":1977,"kind":"t","hour":6.4,"pct":81,"label":"Small Hydro."},
{"year":1977,"kind":"t","hour":16.3,"pct":81,"label":"63,120"},
{"year":1977,"kind":"t","hour":6.5,"pct":75.7,"label":"El Ambi"},
{"year":1977,"kind":"t","hour":16.3,"pct":75.7,"label":"43,200"},
{"year":1977,"kind":"t","hour":22.6,"pct":75.7,"label":"″"},
{"year":1977,"kind":"t","hour":6.4,"pct":70.4,"label":"San Miguel."},
{"year":1977,"kind":"t","hour":16.4,"pct":70.4,"label":"36,000"},
{"year":1977,"kind":"t","hour":22.6,"pct":70.4,"label":"″"},
{"year":1977,"kind":"t","hour":6.5,"pct":65.6,"label":"Diesel."},
{"year":1977,"kind":"t","hour":16.4,"pct":65.6,"label":"49,751"},
{"year":1977,"kind":"t","hour":22.6,"pct":65.6,"label":"″"},
{"year":1977,"kind":"s","hour":2.8,"pct":66.7,"label":"kw"},
{"year":1977,"kind":"t","hour":0.26,"pct":62.9,"label":"7,591"},
{"year":1977,"kind":"t","hour":5.65,"pct":43.8,"label":"El Ambi"},
{"year":1977,"kind":"s","hour":2.4,"pct":44.6,"label":"kw"},
{"year":1977,"kind":"t","hour":0.2,"pct":41.6,"label":"3,000"},
{"year":1977,"kind":"t","hour":4.9,"pct":33.4,"label":"San Miguel de Car"},
{"year":1977,"kind":"s","hour":4.05,"pct":24.2,"label":"kw"},
{"year":1977,"kind":"t","hour":0.13,"pct":21.9,"label":"2,950"},
{"year":1977,"kind":"t","hour":6.2,"pct":21.2,"label":"Small Hydro."},
{"year":1977,"kind":"s","hour":4,"pct":8.5,"label":"kw"},
{"year":1977,"kind":"t","hour":0.4,"pct":5.7,"label":"2,169"},
{"year":1977,"kind":"t","hour":6.3,"pct":5.1,"label":"Diesel"},

{"year":1978,"kind":"t","hour":1.6,"pct":106.3,"label":"1978  Year"},
{"year":1978,"kind":"t","hour":2.56,"pct":101.4,"label":"Max. Demand"},
{"year":1978,"kind":"t","hour":13.7,"pct":101.4,"label":"17,310"},
{"year":1978,"kind":"s","hour":19,"pct":103.6,"label":"kw"},
{"year":1978,"kind":"s","hour":19,"pct":97.7,"label":"kwh"},
{"year":1978,"kind":"t","hour":11.3,"pct":96.1,"label":"216,189"},
{"year":1978,"kind":"t","hour":6.6,"pct":91.1,"label":"L,F."},
{"year":1978,"kind":"t","hour":13.9,"pct":91.1,"label":"52,0"},
{"year":1978,"kind":"t","hour":18.1,"pct":91.1,"label":"%"},
{"year":1978,"kind":"s","hour":20.7,"pct":84.9,"label":"kwh"},
{"year":1978,"kind":"t","hour":6.9,"pct":81.1,"label":"Small Hydro"},
{"year":1978,"kind":"t","hour":16.6,"pct":81.1,"label":"63,120"},
{"year":1978,"kind":"t","hour":6.9,"pct":75.8,"label":"El Ambi"},
{"year":1978,"kind":"t","hour":16.6,"pct":75.8,"label":"43,200"},
{"year":1978,"kind":"t","hour":22.8,"pct":75.8,"label":"″"},
{"year":1978,"kind":"t","hour":6.9,"pct":71,"label":"San Miguel"},
{"year":1978,"kind":"t","hour":16.7,"pct":71,"label":"36,000"},
{"year":1978,"kind":"t","hour":22.8,"pct":71,"label":"″"},
{"year":1978,"kind":"t","hour":7,"pct":65.7,"label":"Diesel"},
{"year":1978,"kind":"t","hour":16.7,"pct":65.7,"label":"73,869"},
{"year":1978,"kind":"t","hour":22.8,"pct":65.7,"label":"″"},
{"year":1978,"kind":"s","hour":2.8,"pct":68.4,"label":"kw"},
{"year":1978,"kind":"t","hour":0.5,"pct":65.2,"label":"7,682"},
{"year":1978,"kind":"t","hour":6,"pct":45.5,"label":"El Ambi"},
{"year":1978,"kind":"s","hour":2.7,"pct":48.6,"label":"kw"},
{"year":1978,"kind":"t","hour":0.46,"pct":45.5,"label":"3,000"},
{"year":1978,"kind":"t","hour":5.6,"pct":36.7,"label":"San Miguel de Car"},
{"year":1978,"kind":"t","hour":0.84,"pct":28.1,"label":"2,950"},
{"year":1978,"kind":"s","hour":4.95,"pct":29.5,"label":"kw"},
{"year":1978,"kind":"t","hour":6.4,"pct":25.7,"label":"Small Hydro"},
{"year":1978,"kind":"s","hour":3.8,"pct":13.6,"label":"kw"},
{"year":1978,"kind":"t","hour":0.2,"pct":10.4,"label":"3,678"},
{"year":1978,"kind":"t","hour":6.55,"pct":10.6,"label":"Diesel"},

{"year":1979,"kind":"t","hour":1.7,"pct":106.3,"label":"1979  Year"},
{"year":1979,"kind":"t","hour":2.55,"pct":101.5,"label":"Max. Demand."},
{"year":1979,"kind":"t","hour":13.7,"pct":101.5,"label":"19,050"},
{"year":1979,"kind":"s","hour":19.5,"pct":103.6,"label":"kw"},
{"year":1979,"kind":"t","hour":12.4,"pct":96.2,"label":"241,934"},
{"year":1979,"kind":"s","hour":19.4,"pct":97.7,"label":"kwh"},
{"year":1979,"kind":"t","hour":6.5,"pct":90.6,"label":"L. F."},
{"year":1979,"kind":"t","hour":14.7,"pct":90.6,"label":"52,9"},
{"year":1979,"kind":"t","hour":20.7,"pct":90.6,"label":"%"},
{"year":1979,"kind":"s","hour":20.6,"pct":85.6,"label":"kwh"},
{"year":1979,"kind":"t","hour":6.4,"pct":81,"label":"Small Hydro."},
{"year":1979,"kind":"t","hour":16.8,"pct":81,"label":"63,120"},
{"year":1979,"kind":"t","hour":6.4,"pct":75.9,"label":"El Ambi"},
{"year":1979,"kind":"t","hour":16.7,"pct":75.9,"label":"43,200"},
{"year":1979,"kind":"t","hour":22.8,"pct":75.9,"label":"″"},
{"year":1979,"kind":"t","hour":6.4,"pct":70.7,"label":"San Miguel"},
{"year":1979,"kind":"t","hour":16.7,"pct":70.7,"label":"36,000"},
{"year":1979,"kind":"t","hour":22.8,"pct":70.7,"label":"″"},
{"year":1979,"kind":"t","hour":6.4,"pct":65.5,"label":"Diesel"},
{"year":1979,"kind":"t","hour":16.7,"pct":65.5,"label":"99,614"},
{"year":1979,"kind":"t","hour":22.8,"pct":65.5,"label":"″"},
{"year":1979,"kind":"s","hour":3.3,"pct":71.7,"label":"kw"},
{"year":1979,"kind":"t","hour":0.5,"pct":68.1,"label":"7,697"},
{"year":1979,"kind":"s","hour":3.3,"pct":53.8,"label":"kw"},
{"year":1979,"kind":"t","hour":0.5,"pct":50.3,"label":"3,000"},
{"year":1979,"kind":"t","hour":5.4,"pct":46.5,"label":"El Ambi"},
{"year":1979,"kind":"s","hour":2.94,"pct":38.4,"label":"kw"},
{"year":1979,"kind":"t","hour":0.2,"pct":35.1,"label":"2,950"},
{"year":1979,"kind":"t","hour":5.6,"pct":37.9,"label":"San Miguel de Car"},
{"year":1979,"kind":"t","hour":5.9,"pct":30.4,"label":"Small Hydro."},
{"year":1979,"kind":"s","hour":4.1,"pct":16.3,"label":"kw"},
{"year":1979,"kind":"t","hour":0.4,"pct":13.3,"label":"5,403"},
{"year":1979,"kind":"t","hour":5.2,"pct":10.8,"label":"Diesel."}
]},
"facet": {"field": "year", "type": "ordinal", "title": null,
  "header": {"title": null, "labels": false, "labelExpr": "''", "labelFontSize": 0, "labelPadding": 0, "titlePadding": 0}},
"resolve": {"axis": {"x": "independent", "y": "independent"}},
"spec": {
  "width": 311,
  "height": 640,
  "layer": [
    {
      "transform": [{"filter": "datum.kind === 'h'"}],
      "mark": {"type": "area", "interpolate": "step-after", "fill": "black", "fillOpacity": 0.22, "stroke": "black", "strokeWidth": 2},
      "encoding": {
        "x": {"field": "hour", "type": "quantitative", "scale": {"domain": [0, 24], "nice": false}, "title": "hour",
              "axis": {"values": [0,4,8,12,16,20,24], "title": "hour", "domain": false, "ticks": false, "grid": false,
                       "labelFont": "DejaVu Sans", "labelFontSize": 18, "labelColor": "black", "labelPadding": 7, "labelFlush": false, "labelOverlap": false,
                       "titleFont": "DejaVu Sans", "titleFontSize": 16, "titleFontWeight": "normal", "titleColor": "black",
                       "titleAlign": "left", "titleAnchor": "start", "titleX": 306, "titleY": 41, "titleBaseline": "middle"}},
        "y": {"field": "pct", "type": "quantitative", "scale": {"domain": [0, 100], "nice": false}, "title": "%",
              "axis": {"values": [0,20,40,60,80,100], "title": "%", "domain": false, "ticks": false, "grid": true,
                       "gridColor": "black", "gridWidth": 1.3, "gridOpacity": 1,
                       "labelFont": "DejaVu Sans", "labelFontSize": 18, "labelColor": "black", "labelPadding": 17,
                       "titleFont": "DejaVu Sans", "titleFontSize": 21, "titleFontWeight": "normal", "titleColor": "black",
                       "titleAngle": 0, "titleAlign": "left", "titleBaseline": "middle", "titleX": -42, "titleY": -35}},
        "y2": {"field": "pct2"}
      }
    },
    {
      "transform": [{"filter": "datum.kind === 'vr'"}],
      "mark": {"type": "rule", "color": "black", "strokeWidth": 2},
      "encoding": {
        "x": {"field": "hour", "type": "quantitative", "scale": {"domain": [0, 24], "nice": false}, "title": "hour"},
        "y": {"field": "pct", "type": "quantitative", "scale": {"domain": [0, 100], "nice": false}, "title": "%"},
        "y2": {"field": "pct2"}
      }
    },
    {
      "transform": [{"filter": "datum.kind === 'sub'"}],
      "mark": {"type": "line", "interpolate": "step-after", "color": "black", "strokeWidth": 2},
      "encoding": {
        "x": {"field": "hour", "type": "quantitative", "scale": {"domain": [0, 24], "nice": false}, "title": "hour"},
        "y": {"field": "pct", "type": "quantitative", "scale": {"domain": [0, 100], "nice": false}, "title": "%"},
        "detail": {"field": "grp"}
      }
    },
    {
      "transform": [{"filter": "datum.kind === 'lead'"}],
      "mark": {"type": "line", "interpolate": "monotone", "color": "black", "strokeWidth": 1.5},
      "encoding": {
        "x": {"field": "hour", "type": "quantitative", "scale": {"domain": [0, 24], "nice": false}, "title": "hour"},
        "y": {"field": "pct", "type": "quantitative", "scale": {"domain": [0, 100], "nice": false}, "title": "%"},
        "detail": {"field": "grp"}
      }
    },
    {
      "transform": [{"filter": "datum.kind === 'c'"}],
      "mark": {"type": "line", "interpolate": "step-after", "color": "black", "strokeWidth": 2.6},
      "encoding": {
        "x": {"field": "hour", "type": "quantitative", "scale": {"domain": [0, 24], "nice": false}, "title": "hour"},
        "y": {"field": "pct", "type": "quantitative", "scale": {"domain": [0, 100], "nice": false}, "title": "%"}
      }
    },
    {
      "transform": [{"filter": "datum.kind === 't'"}],
      "mark": {"type": "text", "align": "left", "baseline": "middle", "font": "DejaVu Sans", "fontSize": 18, "color": "black"},
      "encoding": {
        "x": {"field": "hour", "type": "quantitative", "scale": {"domain": [0, 24], "nice": false}, "title": "hour"},
        "y": {"field": "pct", "type": "quantitative", "scale": {"domain": [0, 100], "nice": false}, "title": "%"},
        "text": {"field": "label"}
      }
    },
    {
      "transform": [{"filter": "datum.kind === 's'"}],
      "mark": {"type": "text", "align": "left", "baseline": "middle", "font": "DejaVu Sans", "fontSize": 15, "dy": -3, "color": "black"},
      "encoding": {
        "x": {"field": "hour", "type": "quantitative", "scale": {"domain": [0, 24], "nice": false}, "title": "hour"},
        "y": {"field": "pct", "type": "quantitative", "scale": {"domain": [0, 100], "nice": false}, "title": "%"},
        "text": {"field": "label"}
      }
    }
  ]
},
"config": {
  "view": {"stroke": "black", "strokeWidth": 2},
  "font": "DejaVu Sans",
  "header": {"labels": false, "title": null, "labelFontSize": 0, "labelPadding": 0},
  "headerFacet": {"labels": false, "title": null, "labelFontSize": 0, "labelPadding": 0}
}
}
